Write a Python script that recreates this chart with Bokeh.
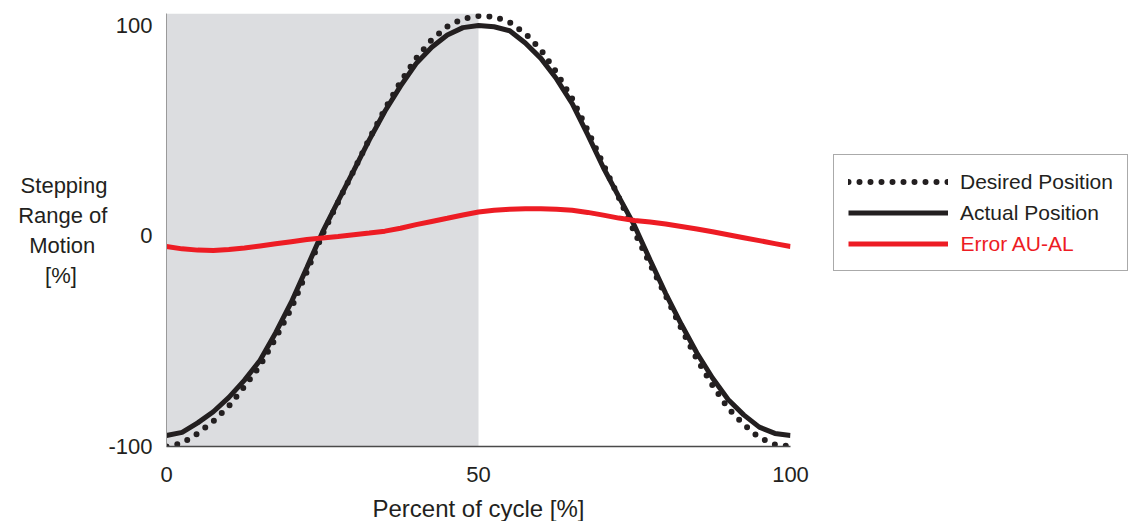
from bokeh.plotting import figure
from bokeh.layouts import row
from bokeh.models import (Range1d, FixedTicker, BoxAnnotation, Legend, LegendItem,
                          Label, ColumnDataSource)
from bokeh.embed import file_html
from bokeh.resources import INLINE

# Percent of gait cycle, sampled every 2.5 %
cycle_pct = [0, 2.5, 5, 7.5, 10, 12.5, 15, 17.5, 20, 22.5, 25, 27.5, 30, 32.5, 35,
             37.5, 40, 42.5, 45, 47.5, 50, 52.5, 55, 57.5, 60, 62.5, 65, 67.5, 70,
             72.5, 75, 77.5, 80, 82.5, 85, 87.5, 90, 92.5, 95, 97.5, 100]

desired_pos = [-100, -98.5, -93.8, -88, -80.8, -71.5, -61.6, -48.5, -34.5, -17, 0.7,
               16, 30.9, 46, 60.1, 73, 84.2, 93, 99.3, 103, 104.3, 104, 101.3, 96,
               88.3, 77.5, 65.1, 50, 33.9, 18, 1.7, -13.5, -28.4, -44, -58.6, -71,
               -81.8, -89.5, -95.8, -99, -100]

actual_pos = [-94.8, -93.3, -88.8, -83.5, -76.7, -68.5, -59.1, -46, -31.5, -15, 1.7,
              16.5, 30.9, 45.5, 59.1, 71, 81.7, 89.5, 95.3, 98.8, 99.8, 99.2, 97.3,
              91.5, 84.2, 74.5, 62.8, 48, 32.4, 18.5, 4.8, -11.5, -27.4, -42, -55.6,
              -67.5, -77.7, -85, -90.8, -93.8, -94.8]

error_au_al = [-5.1, -6.2, -6.8, -7.0, -6.5, -5.8, -4.8, -3.8, -2.8, -1.8, -1.0, -0.3,
               0.5, 1.3, 2.2, 3.6, 5.3, 6.8, 8.3, 9.9, 11.3, 12.1, 12.6, 12.8, 12.8,
               12.6, 12.1, 11.1, 9.8, 8.4, 7.3, 6.5, 5.6, 4.4, 3.2, 1.9, 0.5, -0.9,
               -2.3, -3.7, -5.1]

# Shaded phase of the cycle
phase_start, phase_end = 0, 50

x_ticks = [0, 50, 100]
y_ticks = [-100, 0, 100]
y_tick_text = {-100: "-100", 0: "0", 100: "100"}

series_labels = ["Desired Position", "Actual Position", "Error AU-AL"]
x_title = "Percent of cycle [%]"
# the axis lays multi-line titles out flush right; no-break spaces centre the lines
NB = "\u00a0"
y_title = "\n".join(["Stepping", "Range of", "Motion" + NB * 2, "[%]" + NB * 5])

FONT = "Liberation Sans"
INK = "#231f20"
RED = "#ed1c24"
DOTS = dict(line_color=INK, line_width=6, line_dash="0 11", line_cap="round")
SOLID = dict(line_color=INK, line_width=5)
ERR = dict(line_color=RED, line_width=5)

src = ColumnDataSource(dict(x=cycle_pct, desired=desired_pos,
                            actual=actual_pos, error=error_au_al))

# ---- main chart -------------------------------------------------------------
p = figure(frame_width=624, frame_height=433, output_backend="svg",
           toolbar_location=None,
           x_range=Range1d(0, 100), y_range=Range1d(-100, 105.5),
           min_border_left=166, min_border_right=20, min_border_top=13,
           min_border_bottom=75)
p.outline_line_color = None
p.grid.visible = False

p.add_layout(BoxAnnotation(left=phase_start, right=phase_end, fill_color="#dcdde0",
                           fill_alpha=1.0, line_color=None, level="underlay"))

p.line("x", "desired", source=src, **DOTS)
p.line("x", "actual", source=src, **SOLID)
p.line("x", "error", source=src, **ERR)

for ax in (p.xaxis[0], p.yaxis[0]):
    ax.major_tick_line_color = None
    ax.minor_tick_line_color = None
    ax.major_label_text_font = FONT
    ax.major_label_text_font_size = "22px"
    ax.major_label_text_color = INK
    ax.major_tick_out = 0
    ax.major_tick_in = 0
    ax.axis_label_text_font = FONT
    ax.axis_label_text_font_style = "normal"
    ax.axis_label_text_color = INK

p.xaxis.ticker = FixedTicker(ticks=x_ticks)
p.yaxis.ticker = FixedTicker(ticks=y_ticks)
p.yaxis.major_label_overrides = y_tick_text
p.xaxis.axis_line_color = "#4a4a4a"
p.xaxis.axis_line_width = 1.5
p.yaxis.axis_line_color = "#9a9a9a"
p.yaxis.axis_line_width = 1
p.xaxis.major_label_standoff = 20
p.yaxis.major_label_standoff = 14

p.xaxis.axis_label = x_title
p.xaxis.axis_label_text_font_size = "24px"
p.xaxis.axis_label_standoff = 10

p.yaxis.axis_label = y_title
p.yaxis.axis_label_orientation = "horizontal"
p.yaxis.axis_label_text_font_size = "22px"
p.yaxis.axis_label_text_line_height = 1.2
p.yaxis.axis_label_standoff = -2

# ---- legend panel -----------------------------------------------------------
# The series renderers here only feed the legend swatches; the view range keeps
# their lines out of sight.
lg = figure(width=318, height=521, output_backend="svg", toolbar_location=None,
            x_axis_type=None, y_axis_type=None, min_border=0,
            x_range=Range1d(1000, 1001), y_range=Range1d(1000, 1001))
lg.outline_line_color = None
lg.grid.visible = False
r_des = lg.line("x", "desired", source=src, **DOTS)
r_act = lg.line("x", "actual", source=src, **SOLID)
r_err = lg.line("x", "error", source=src, **ERR)

legend = Legend(items=[LegendItem(label=series_labels[0], renderers=[r_des]),
                       LegendItem(label=series_labels[1], renderers=[r_act]),
                       LegendItem(label=" ", renderers=[r_err])],
                location=(23, 172), margin=0, padding=14, spacing=6,
                glyph_width=100, glyph_height=25, label_height=25,
                label_standoff=12, label_text_font=FONT,
                label_text_font_size="21px", label_text_color=INK,
                border_line_color="#555555", border_line_width=1,
                background_fill_alpha=0.0)
lg.add_layout(legend)
lg.add_layout(Label(x=150, y=200, x_units="screen", y_units="screen",
                    text=series_labels[2], text_align="left",
                    text_baseline="middle", text_font=FONT,
                    text_font_size="21px", text_color=RED))

open("out.html", "w").write(file_html(row(p, lg), INLINE))
